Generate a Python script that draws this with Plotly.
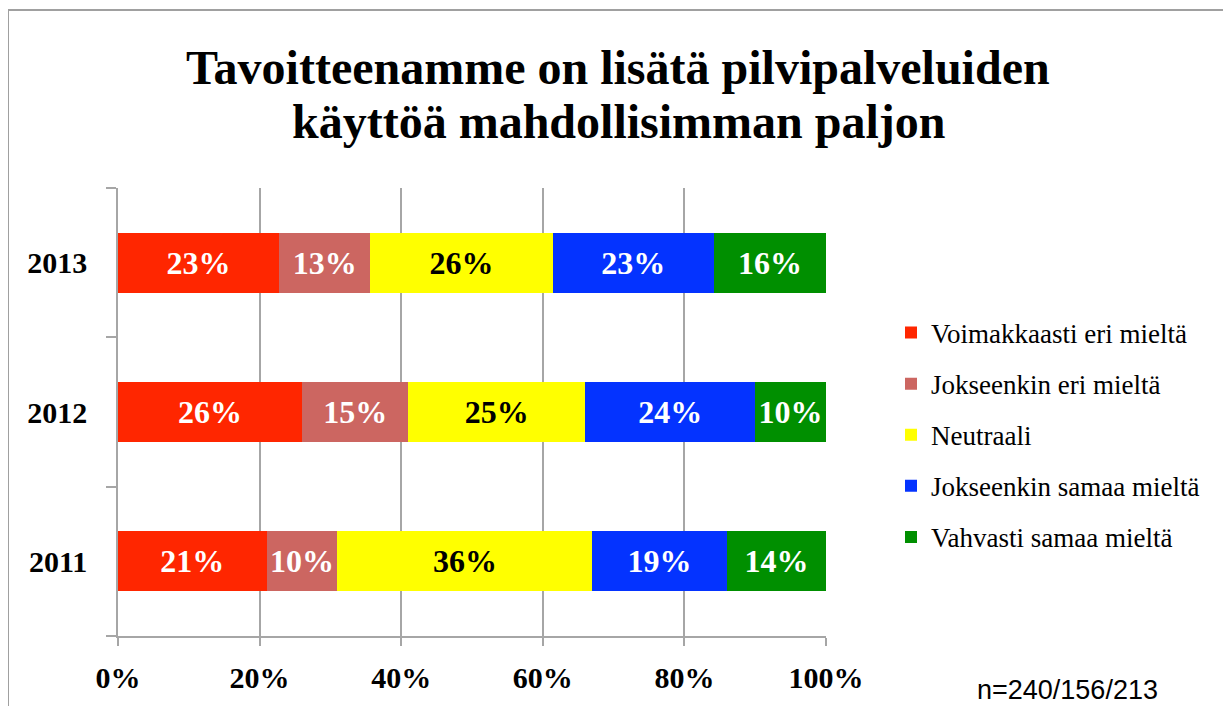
import plotly.graph_objects as go

years = ["2011", "2012", "2013"]
series_names = [
    "Voimakkaasti eri mieltä",
    "Jokseenkin eri mieltä",
    "Neutraali",
    "Jokseenkin samaa mieltä",
    "Vahvasti samaa mieltä",
]
# values per series, order follows years (2011, 2012, 2013)
voimakkaasti_eri = [21, 26, 23]
jokseenkin_eri = [10, 15, 13]
neutraali = [36, 25, 26]
jokseenkin_samaa = [19, 24, 23]
vahvasti_samaa = [14, 10, 16]
series_values = [voimakkaasti_eri, jokseenkin_eri, neutraali, jokseenkin_samaa, vahvasti_samaa]

colors = ["#FF2600", "#CC6661", "#FFFF00", "#0433FF", "#008F00"]
text_colors = ["white", "white", "black", "white", "white"]
x_ticks = [0, 20, 40, 60, 80, 100]
x_tick_labels = [f"{v}%" for v in x_ticks]

title_lines = ["Tavoitteenamme on lisätä pilvipalveluiden", "käyttöä mahdollisimman paljon"]
note_text = "n=240/156/213"

SERIF = "Liberation Serif, Times New Roman, serif"
GRID = "#A6A6A6"

OFF = 8  # page body margin offset (screen = figure + OFF)
W, H = 1231, 706
# plot area in screen pixels of the reference
L, R, T, B = 118 - OFF, 826 - OFF, 188 - OFF, 636 - OFF
pw, ph = R - L, B - T


def px(xs):
    return (xs - OFF - L) / pw


def py(ys):
    return (B - (ys - OFF)) / ph


fig = go.Figure()
for i, (name, vals) in enumerate(zip(series_names, series_values)):
    fig.add_trace(go.Bar(
        y=years, x=vals, name=name, orientation="h",
        marker=dict(color=colors[i], line=dict(width=0)),
        text=[f"{v}%" for v in vals],
        textposition="inside", insidetextanchor="middle",
        textangle=0, constraintext="none",
        textfont=dict(family=SERIF, size=32, color=text_colors[i], weight="bold"),
        legendgroup=name,
        hoverinfo="skip",
    ))

annotations = []
for line, yc in zip(title_lines, [67.5, 121.5]):
    annotations.append(dict(text=line, xref="paper", yref="paper", x=px(618), y=py(yc),
                            xanchor="center", yanchor="middle", showarrow=False,
                            font=dict(family=SERIF, size=48, color="black", weight="bold")))
annotations.append(dict(text=note_text, xref="paper", yref="paper", x=px(975), y=py(690),
                        xanchor="left", yanchor="middle", showarrow=False,
                        font=dict(family="Liberation Sans, Arial, sans-serif", size=27, color="black")))

fig.update_layout(
    width=W, height=H,
    margin=dict(l=L, r=W - R, t=T, b=H - B, pad=0),
    paper_bgcolor="white", plot_bgcolor="white",
    barmode="stack", barnorm="percent", bargap=0.6,
    font=dict(family=SERIF, color="black"),
    showlegend=True,
    legend=dict(x=px(891), xanchor="left", y=py(435), yanchor="middle",
                traceorder="grouped", tracegroupgap=13,
                font=dict(family=SERIF, size=27, color="black"),
                bgcolor="rgba(0,0,0,0)", borderwidth=0),
    xaxis=dict(range=[0, 100], tickvals=x_ticks, ticktext=x_tick_labels,
               showgrid=True, gridcolor=GRID, gridwidth=1.5,
               showline=True, linecolor=GRID, linewidth=1.5,
               ticks="outside", ticklen=8, tickcolor=GRID, tickwidth=1.5,
               ticklabelstandoff=6, zeroline=False, fixedrange=True,
               tickfont=dict(family=SERIF, size=30, color="black", weight="bold")),
    yaxis=dict(range=[-0.5, 2.5], type="category", categoryorder="array", categoryarray=years,
               showgrid=False, showline=True, linecolor=GRID, linewidth=1.5,
               ticks="outside", tickson="boundaries", ticklen=10, tickcolor=GRID, tickwidth=1.5,
               ticklabelstandoff=23, zeroline=False, fixedrange=True,
               tickfont=dict(family=SERIF, size=30, color="black", weight="bold")),
    shapes=[dict(type="rect", xref="paper", yref="paper",
                 x0=px(8), x1=px(1229), y0=py(740), y1=py(10),
                 line=dict(color="#A0A0A0", width=2), fillcolor="rgba(0,0,0,0)", layer="below")],
    annotations=annotations,
)

fig.write_html("out.html")
